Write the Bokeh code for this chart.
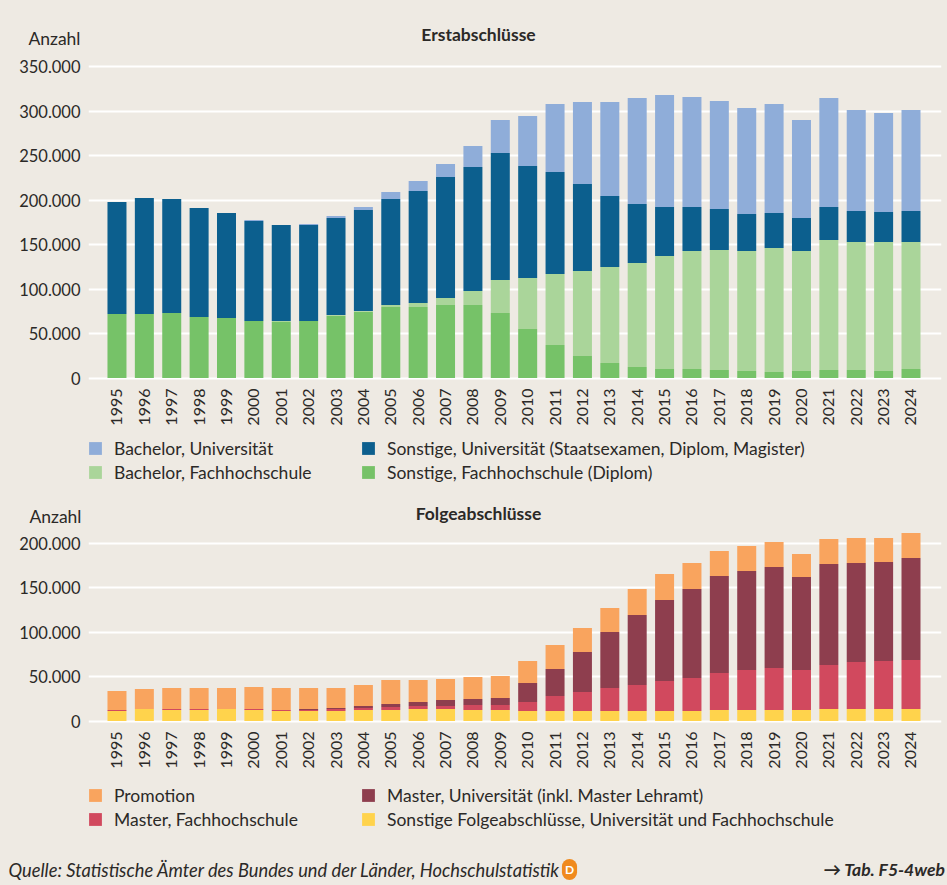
from bokeh.plotting import figure
from bokeh.layouts import column
from bokeh.models import Range1d, FixedTicker, Legend, LegendItem, Label
from bokeh.embed import file_html
from bokeh.resources import INLINE
from math import pi

years = list(range(1995, 2025))
year_labels = [str(y) for y in years]

sonst_fh = [71900,71900,73000,68500,67400,64000,63000,64000,70000,74500,79800,79800,82000,82000,73000,
            55000,37000,24700,16900,12400,10100,10100,9000,7900,6700,7900,9000,9000,7900,10100]
bach_fh = [0,0,0,0,0,0,1000,0,700,700,2200,4500,7900,15700,37100,
           57400,79800,95500,107800,116800,127000,132600,134800,134800,139400,134800,146000,143800,144900,142700]
sonst_uni = [125900,130300,128100,122500,118000,112400,107900,107900,109100,113600,119100,125800,135900,139300,142700,
             125800,114600,97800,79800,66300,55000,49400,46100,41600,39300,37100,37100,34800,33700,34800]
bach_uni = [0,0,0,0,0,1100,0,1100,2200,3300,7900,11200,14600,23700,37100,
            56200,76400,92100,105600,119100,125900,123600,121300,119000,122400,110100,122500,113500,111200,113500]

sonst_folge = [11200,13500,12400,12400,13500,12400,11200,11200,11200,12400,12400,13500,13500,12400,12400,
               11200,11200,11200,11200,11200,11200,11200,12400,12400,12400,12400,13500,13500,13500,13500]
master_fh = [1200,0,1100,1100,0,1100,1200,1200,2300,2200,3300,3400,3400,5600,5600,
             10100,16900,21400,25900,29200,33700,37100,41500,44900,47100,44900,49400,52800,53900,55000]
master_uni = [0,0,0,0,0,0,0,1100,1100,2300,3400,4400,6700,6700,7800,
              21400,30300,44900,62900,78700,91000,100000,109000,111200,113500,104500,113500,111200,111200,114600]
promotion = [21300,22500,23600,23600,23600,24700,24700,23600,22500,23500,27000,24800,23600,24700,24800,
             24700,27000,27000,27000,29200,29300,29200,28100,28100,28100,25800,28100,28100,27000,28100]

ticks_top = [0, 50000, 100000, 150000, 200000, 250000, 300000, 350000]
ticks_top_labels = ["0", "50.000", "100.000", "150.000", "200.000", "250.000", "300.000", "350.000"]
ticks_bot = [0, 50000, 100000, 150000, 200000]
ticks_bot_labels = ["0", "50.000", "100.000", "150.000", "200.000"]

top_series = ["sonst_fh", "bach_fh", "sonst_uni", "bach_uni"]
top_colors = ["#76C268", "#AAD59A", "#0C5F8E", "#8FADD9"]
top_names = ["Sonstige, Fachhochschule (Diplom)", "Bachelor, Fachhochschule",
             "Sonstige, Universität (Staatsexamen, Diplom, Magister)", "Bachelor, Universität"]
bot_series = ["sonst_folge", "master_fh", "master_uni", "promotion"]
bot_colors = ["#FFD34C", "#D1495E", "#8E3E4E", "#F9A45E"]
bot_names = ["Sonstige Folgeabschlüsse, Universität und Fachhochschule", "Master, Fachhochschule",
             "Master, Universität (inkl. Master Lehramt)", "Promotion"]

BG = "#EEEAE3"
INK = "#2B2927"
FONT = "Lato"
FS = "17.5px"
PX_PER_UNIT = 0.00089
WIDTH = 947
LEFT = 88
FRAME_W = 853
AXIS_H = 48


def panel(frame_h, zero_below, ticks, tick_labels, series, colors, data):
    y0 = -zero_below / PX_PER_UNIT
    y1 = y0 + frame_h / PX_PER_UNIT
    p = figure(width=WIDTH, height=frame_h + AXIS_H, output_backend="svg", toolbar_location=None,
               x_range=Range1d(years[0] - 1.04, years[-1] + 1.114), y_range=Range1d(y0, y1),
               min_border_left=LEFT, min_border_right=WIDTH - LEFT - FRAME_W,
               min_border_top=0, min_border_bottom=AXIS_H, frame_align=False,
               background_fill_color=BG, border_fill_color=BG, outline_line_color=None)
    p.vbar_stack(series, x="x", width=0.694, color=colors, line_color=None,
                 source=dict(x=years, **data))
    p.xgrid.visible = False
    p.ygrid.ticker = FixedTicker(ticks=ticks)
    p.ygrid.grid_line_color = "white"
    p.ygrid.grid_line_width = 2
    for ax in (p.xaxis[0], p.yaxis[0]):
        ax.axis_line_color = None
        ax.major_tick_line_color = None
        ax.minor_tick_line_color = None
        ax.major_label_text_font = FONT
        ax.major_label_text_color = INK
    p.yaxis[0].major_label_text_font_size = "16.5px"
    p.xaxis[0].major_label_text_font_size = "16px"
    p.yaxis[0].ticker = FixedTicker(ticks=ticks)
    p.yaxis[0].major_label_overrides = dict(zip(ticks, tick_labels))
    p.yaxis[0].major_label_standoff = 2
    p.xaxis[0].ticker = FixedTicker(ticks=years)
    p.xaxis[0].major_label_overrides = dict(zip(years, year_labels))
    p.xaxis[0].major_label_orientation = pi / 2
    p.xaxis[0].major_label_standoff = 0
    return p


def strip(height):
    s = figure(width=WIDTH, height=height, output_backend="svg", toolbar_location=None,
               x_range=Range1d(0, WIDTH), y_range=Range1d(0, height),
               x_axis_location=None, y_axis_location=None, frame_align=False,
               min_border_left=0, min_border_right=0, min_border_top=0, min_border_bottom=0,
               background_fill_color=BG, border_fill_color=BG, outline_line_color=None)
    s.grid.visible = False
    return s


def add_legend(p, names, colors, x, y):
    items = []
    for name, c in zip(names, colors):
        # off-screen stand-in bar: the legend only borrows its colour
        r = p.vbar(x=[-100], top=[0], width=1, fill_color=c, line_color=None)
        items.append(LegendItem(label=name, renderers=[r]))
    lg = Legend(items=items, location=(x, y), orientation="vertical", padding=0, margin=0, spacing=3,
                glyph_width=16, glyph_height=16, label_height=16, label_standoff=11,
                label_text_font=FONT, label_text_font_size=FS, label_text_color=INK,
                background_fill_alpha=0, border_line_color=None)
    p.add_layout(lg, "center")


def txt(p, s, x, y, **kw):
    opts = dict(x_units="screen", y_units="screen", text_font=FONT, text_font_size=FS, text_color=INK,
                text_baseline="middle")
    opts.update(kw)
    p.add_layout(Label(x=x, y=y, text=s, **opts))


head = strip(50)
txt(head, "Anzahl", 80, 12, text_align="right")
txt(head, "Erstabschlüsse", 478, 16, text_align="center", text_font_style="bold")

p1 = panel(332, 4.5, ticks_top, ticks_top_labels, top_series, top_colors,
           dict(sonst_fh=sonst_fh, bach_fh=bach_fh, sonst_uni=sonst_uni, bach_uni=bach_uni))

mid = strip(98)
add_legend(mid, [top_names[3], top_names[1]], [top_colors[3], top_colors[1]], 87, 45.5)
add_legend(mid, [top_names[2], top_names[0]], [top_colors[2], top_colors[0]], 360, 45.5)
txt(mid, "Anzahl", 81, 12, text_align="right")
txt(mid, "Folgeabschlüsse", 478, 15, text_align="center", text_font_style="bold")

p2 = panel(197, 4.5, ticks_bot, ticks_bot_labels, bot_series, bot_colors,
           dict(sonst_folge=sonst_folge, master_fh=master_fh, master_uni=master_uni, promotion=promotion))

foot = strip(112)
add_legend(foot, [bot_names[3], bot_names[1]], [bot_colors[3], bot_colors[1]], 87, 55.5)
add_legend(foot, [bot_names[2], bot_names[0]], [bot_colors[2], bot_colors[0]], 360, 55.5)
txt(foot, "Quelle: Statistische Ämter des Bundes und der Länder, Hochschulstatistik", 8, 16,
    text_font_style="italic", text_font_size="18.3px")
txt(foot, "D", 569, 16, text_align="center", text_color="white", text_font_style="bold",
    text_font_size="12px", background_fill_color="#F08A1D", border_radius=8, padding=3)
txt(foot, "→ Tab. F5-4web", 945, 16, text_align="right", text_font_style="bold italic")

page = column(head, p1, mid, p2, foot, spacing=0, styles={"background-color": BG})
html = file_html(page, INLINE)
html = html.replace("<head>", "<head><style>html,body{background:%s;}</style>" % BG, 1)
open("out.html", "w").write(html)
